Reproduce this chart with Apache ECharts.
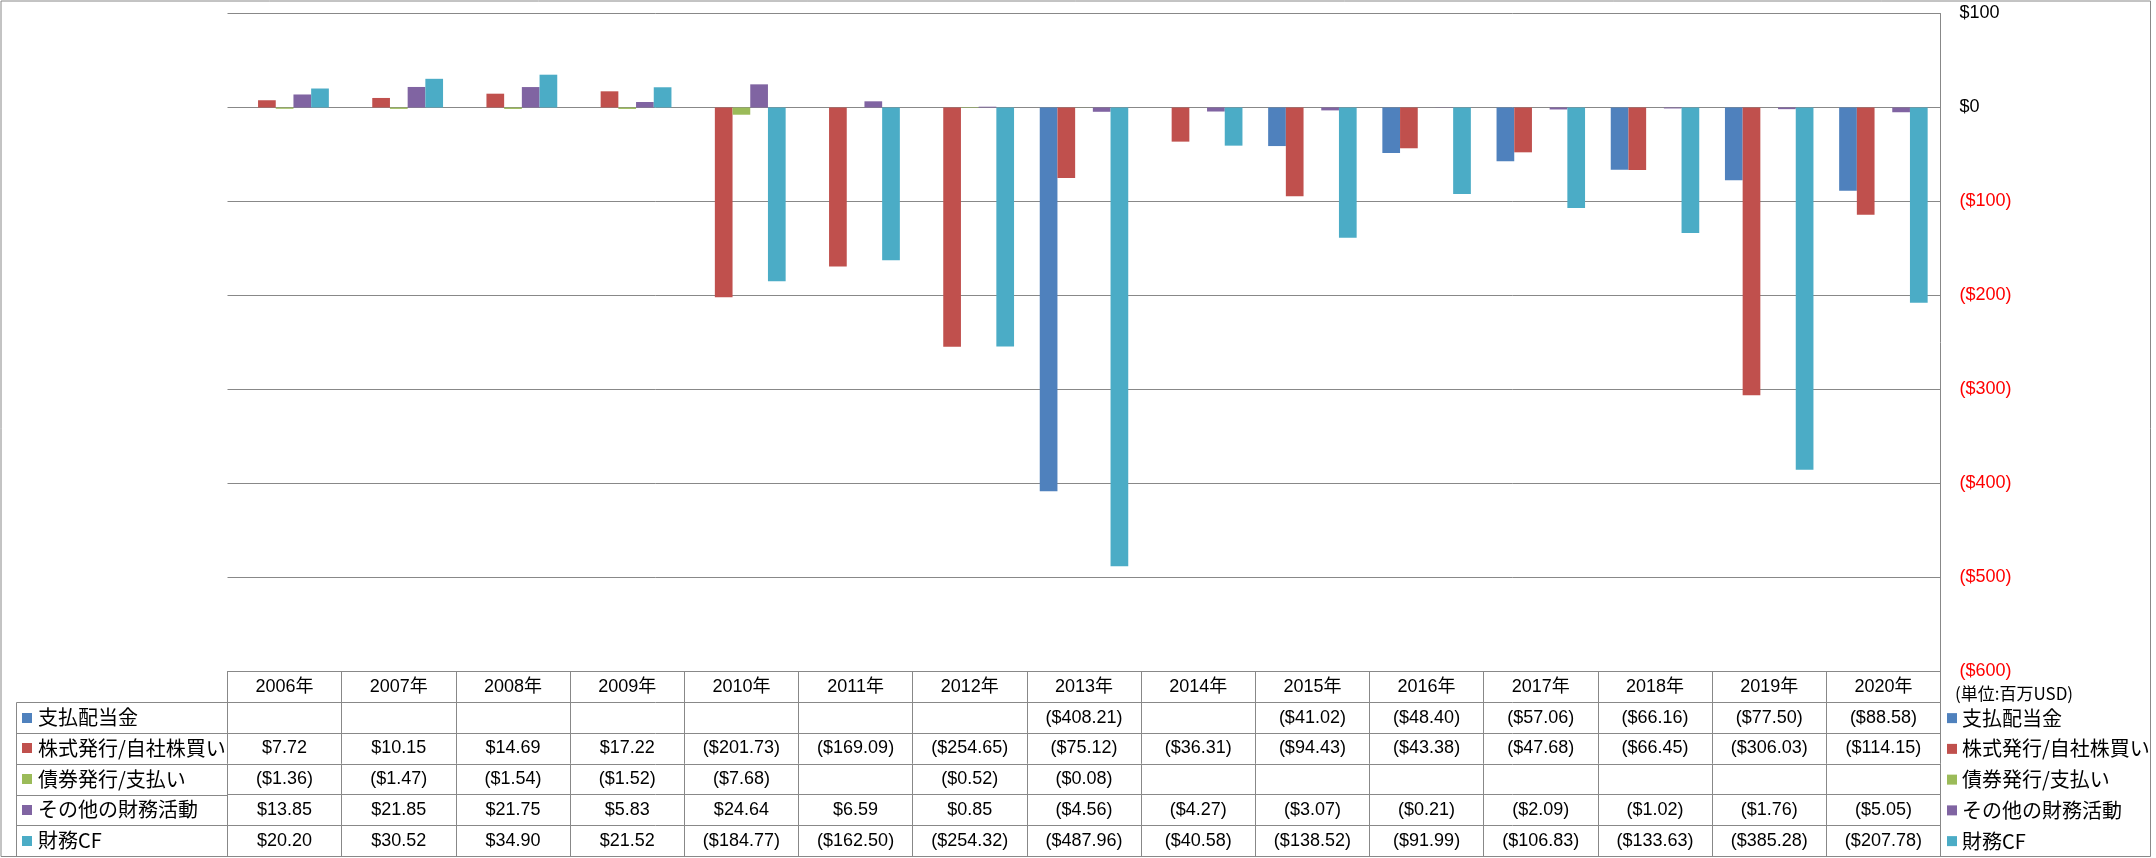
<!DOCTYPE html>
<html><head><meta charset="utf-8">
<script src="https://cdn.jsdelivr.net/npm/echarts@6/dist/echarts.min.js"></script>
<style>html,body{margin:0;padding:0;background:#fff}#c{width:2156px;height:858px}</style>
</head><body><div id="c"></div>
<script>
// ---- data ----
const years = ['2006年','2007年','2008年','2009年','2010年','2011年','2012年','2013年','2014年','2015年','2016年','2017年','2018年','2019年','2020年'];
const seriesNames = ['支払配当金','株式発行/自社株買い','債券発行/支払い','その他の財務活動','財務CF'];
const dividends  = [null,null,null,null,null,null,null,-408.21,null,-41.02,-48.40,-57.06,-66.16,-77.50,-88.58];
const stockIssue = [7.72,10.15,14.69,17.22,-201.73,-169.09,-254.65,-75.12,-36.31,-94.43,-43.38,-47.68,-66.45,-306.03,-114.15];
const debtIssue  = [-1.36,-1.47,-1.54,-1.52,-7.68,null,-0.52,-0.08,null,null,null,null,null,null,null];
const otherFin   = [13.85,21.85,21.75,5.83,24.64,6.59,0.85,-4.56,-4.27,-3.07,-0.21,-2.09,-1.02,-1.76,-5.05];
const financeCF  = [20.20,30.52,34.90,21.52,-184.77,-162.50,-254.32,-487.96,-40.58,-138.52,-91.99,-106.83,-133.63,-385.28,-207.78];
const yMin = -600, yMax = 100, yInterval = 100;
const unitLabel = '(単位:百万USD)';

// ---- style / layout ----
const rows = [dividends, stockIssue, debtIssue, otherFin, financeCF];
const colors = ['#4F81BD','#C0504D','#9BBB59','#8064A2','#4BACC6'];
const LAT = "'Liberation Sans','Noto Sans CJK JP',sans-serif";
const JP = "'Noto Sans CJK JP','Liberation Sans',sans-serif";
const LINE = '#888888';
const gridLeft = 227.5, gridRight = 1940.5, gridTop = 13.5, gridBottom = 671.5;
const rowH = 30.75;
const labelColLeft = 16.5;

function fmt(v){
  if (v === null || v === undefined) return '';
  return v < 0 ? '($' + (-v).toFixed(2) + ')' : '$' + v.toFixed(2);
}

const xAxes = [];
// header row (years)
xAxes.push({
  type:'category', data: years, gridIndex:0, position:'bottom', offset:0,
  axisLine:{show:true, onZero:false, lineStyle:{color:LINE, width:1}},
  axisTick:{show:true, interval:0, length:rowH, alignWithLabel:false, lineStyle:{color:LINE}},
  axisLabel:{interval:0, margin:rowH/2, verticalAlign:'middle', fontSize:18, fontFamily:LAT, color:'#000'},
  splitLine:{show:false}
});
rows.forEach((arr, k) => {
  xAxes.push({
    type:'category', data: years, gridIndex:0, position:'bottom', offset:(k+1)*rowH,
    axisLine:{show:true, onZero:false, lineStyle:{color:LINE, width:1}},
    axisTick:{show:true, interval:0, length:rowH, alignWithLabel:false, lineStyle:{color:LINE}},
    axisLabel:{interval:0, margin:rowH/2, verticalAlign:'middle', fontSize:18, fontFamily:LAT, color:'#000',
      formatter:(val, idx) => fmt(arr[idx])},
    splitLine:{show:false}
  });
});
// bottom line of table
xAxes.push({
  type:'category', data: years, gridIndex:0, position:'bottom', offset:6*rowH,
  axisLine:{show:true, onZero:false, lineStyle:{color:LINE, width:1}},
  axisTick:{show:false}, axisLabel:{show:false}, splitLine:{show:false}
});

const graphics = [];
// outer border
graphics.push({type:'rect', silent:true, shape:{x:1, y:1, width:2149.5, height:855.5}, style:{fill:'none', stroke:LINE, lineWidth:1}});
// row-label column lines
const rowTop = k => Math.round(gridBottom + k*rowH) + 0.5;
graphics.push({type:'line', silent:true, shape:{x1:labelColLeft, y1:rowTop(1), x2:labelColLeft, y2:rowTop(6)}, style:{stroke:LINE, lineWidth:1}});
for (let k = 1; k <= 6; k++) {
  graphics.push({type:'line', silent:true, shape:{x1:labelColLeft, y1:rowTop(k), x2:gridLeft, y2:rowTop(k)}, style:{stroke:LINE, lineWidth:1}});
}
seriesNames.forEach((name, k) => {
  const cy = gridBottom + (k+1.5)*rowH;
  graphics.push({type:'rect', silent:true, shape:{x:22, y:Math.round(cy-5), width:10, height:10}, style:{fill:colors[k]}});
  graphics.push({type:'text', silent:true, x:38, y:cy, style:{text:name, font:'20px ' + JP, fill:'#000', verticalAlign:'middle', align:'left'}});
});
graphics.push({type:'text', silent:true, x:1955, y:694, style:{text:unitLabel, font:'17px ' + JP, fill:'#000', verticalAlign:'middle', align:'left'}});

const option = {
  animation:false,
  backgroundColor:'#fff',
  grid:{left:gridLeft, top:gridTop, width:gridRight-gridLeft, height:gridBottom-gridTop, containLabel:false},
  legend:{
    data: seriesNames, orient:'vertical', left:1942, top:gridBottom + 1.5*rowH - 10 - 5 + 0.5,
    itemWidth:10, itemHeight:10, itemGap:rowH-20, icon:'rect', selectedMode:false, padding:5,
    textStyle:{fontSize:20, lineHeight:20, fontFamily:JP, color:'#000'}
  },
  xAxis: xAxes,
  yAxis:{
    type:'value', position:'right', min:yMin, max:yMax, interval:yInterval,
    axisLine:{show:true, lineStyle:{color:LINE, width:1}},
    axisTick:{show:false},
    splitLine:{show:true, lineStyle:{color:LINE, width:1}},
    axisLabel:{margin:19, fontSize:18, fontFamily:LAT,
      formatter: v => v < 0 ? '($' + (-v) + ')' : '$' + v,
      color: v => Number(v) < 0 ? '#FF0000' : '#000000'}
  },
  series: seriesNames.map((name, k) => ({
    name, type:'bar', xAxisIndex:0, yAxisIndex:0, data: rows[k],
    itemStyle:{color:colors[k]}, barGap:'0%', barCategoryGap:'22.5%', silent:true
  })),
  graphic: graphics
};
const chart = echarts.init(document.getElementById('c'), null, {renderer:'canvas'});
chart.setOption(option);
</script>
</body></html>
